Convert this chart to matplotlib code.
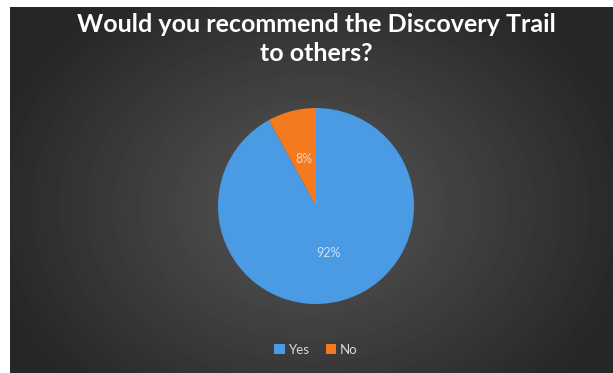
import numpy as np
import matplotlib.pyplot as plt
from matplotlib.patches import Patch

labels = ['Yes', 'No']
shares = [92, 8]
colors = ['#4a9be4', '#f37a1f']
title = 'Would you recommend the Discovery Trail\nto others?'

W, H = 613, 373
fig = plt.figure(figsize=(W / 100, H / 100), dpi=100)
fig.patch.set_facecolor('white')

# dark panel with a soft radial glow in the middle
bg = fig.add_axes([10 / W, 0, (W - 10) / W, (H - 7) / H])
yy, xx = np.mgrid[0:366, 0:603]
r = np.sqrt(((xx - 300) / 330.0) ** 2 + ((yy - 200) / 260.0) ** 2)
shade = np.clip(0.34 - 0.19 * r, 0.15, 0.34)
bg.imshow(shade, cmap='gray', vmin=0, vmax=1, aspect='auto', interpolation='bilinear')
bg.axis('off')

# pie
cx, cy, rad = 316, 206, 98
ax = fig.add_axes([(cx - rad) / W, (H - cy - rad) / H, 2 * rad / W, 2 * rad / H])
wedges, texts, autotexts = ax.pie(
    shares, colors=colors, startangle=90, counterclock=False,
    autopct='%1.0f%%', pctdistance=0.5, radius=1,
    wedgeprops=dict(linewidth=0),
    textprops=dict(fontsize=9, family='Lato'))
autotexts[0].set_color('#cfe0f2')
autotexts[1].set_color('#f7d2b8')
ax.set_xlim(-1, 1)
ax.set_ylim(-1, 1)
ax.set_aspect('equal')
ax.axis('off')

fig.text(316 / W, 1 - 13 / H, title, ha='center', va='top', color='white',
         fontsize=18, fontweight='bold', family='Lato', linespacing=1.3)

handles = [Patch(facecolor=c, edgecolor='none') for c in colors]
fig.legend(handles, labels, loc='center', bbox_to_anchor=(316 / W, 1 - 350 / H),
           ncol=2, frameon=False, labelcolor='#d9d9d9',
           handlelength=0.8, handleheight=0.8, handletextpad=0.3, columnspacing=1.2,
           prop={'family': 'Lato', 'size': 9.5})

fig.savefig('out.png', dpi=100)
